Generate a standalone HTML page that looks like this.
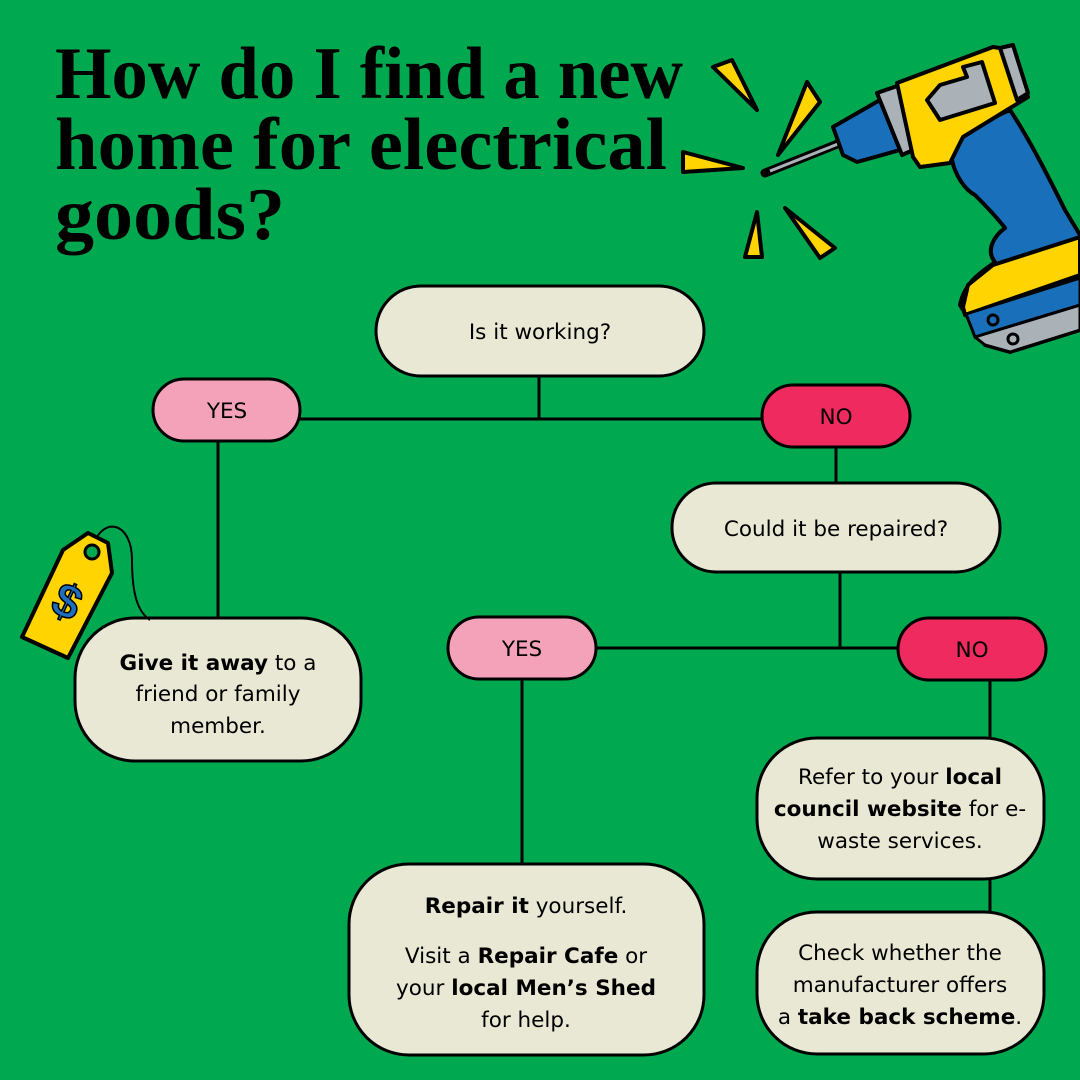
<!DOCTYPE html>
<html><head><meta charset="utf-8"><style>
html,body{margin:0;padding:0;background:#00a84f}
svg{display:block}
.n{fill:#e9e8d4;stroke:#000;stroke-width:3}
.t{font-family:"DejaVu Sans","Liberation Sans",sans-serif;font-size:21.5px;fill:#000;text-anchor:middle}
.b{font-weight:bold}
.l{stroke:#000;stroke-width:3;fill:none}
.y{fill:#ffd400;stroke:#000;stroke-width:4;stroke-linejoin:round}
</style></head><body>
<svg width="1080" height="1080" viewBox="0 0 1080 1080" xmlns="http://www.w3.org/2000/svg">
<rect width="1080" height="1080" fill="#00a84f"/>
<g font-family="Liberation Serif,serif" font-weight="bold" font-size="74" fill="#000">
<text x="55" y="98" textLength="628" lengthAdjust="spacingAndGlyphs">How do I find a new</text>
<text x="55" y="169" textLength="612" lengthAdjust="spacingAndGlyphs">home for electrical</text>
<text x="55" y="239" textLength="230" lengthAdjust="spacingAndGlyphs">goods?</text>
</g>
<path class="l" d="M539 376V419M300 419H762M218 441V618M836 447V483M840 572V648M596 648H898M522 679V864M990 680V738M990 879V912"/>
<rect class="n" x="376" y="286" width="328" height="90" rx="45"/>
<text class="t" x="540" y="339">Is it working?</text>
<rect x="153" y="379" width="147" height="62" rx="31" fill="#f4a2ba" stroke="#000" stroke-width="3"/>
<text class="t" x="227" y="418">YES</text>
<rect x="762" y="385" width="148" height="62" rx="31" fill="#ee2a5e" stroke="#000" stroke-width="3"/>
<text class="t" x="836" y="424">NO</text>
<rect class="n" x="672" y="483" width="328" height="89" rx="44"/>
<text class="t" x="836" y="536">Could it be repaired?</text>
<rect x="448" y="617" width="148" height="62" rx="31" fill="#f4a2ba" stroke="#000" stroke-width="3"/>
<text class="t" x="522" y="656">YES</text>
<rect x="898" y="618" width="148" height="62" rx="31" fill="#ee2a5e" stroke="#000" stroke-width="3"/>
<text class="t" x="972" y="657">NO</text>
<rect class="n" x="75" y="618" width="286" height="143" rx="60"/>
<text class="t" x="218" y="670"><tspan class="b">Give it away</tspan> to a</text>
<text class="t" x="218" y="701">friend or family</text>
<text class="t" x="218" y="733">member.</text>
<rect class="n" x="349" y="864" width="355" height="191" rx="60"/>
<text class="t" x="526" y="913"><tspan class="b">Repair it</tspan> yourself.</text>
<text class="t" x="526" y="963">Visit a <tspan class="b">Repair Cafe</tspan> or</text>
<text class="t" x="526" y="995">your <tspan class="b">local Men’s Shed</tspan></text>
<text class="t" x="526" y="1027">for help.</text>
<rect class="n" x="757" y="738" width="287" height="141" rx="60"/>
<text class="t" x="900" y="784">Refer to your <tspan class="b">local</tspan></text>
<text class="t" x="900" y="816"><tspan class="b">council website</tspan> for e-</text>
<text class="t" x="900" y="848">waste services.</text>
<rect class="n" x="757" y="912" width="287" height="142" rx="60"/>
<text class="t" x="900" y="960">Check whether the</text>
<text class="t" x="900" y="992">manufacturer offers</text>
<text class="t" x="900" y="1024">a <tspan class="b">take back scheme</tspan>.</text>
<path d="M92 550 C100 515 132 520 132 560 C132 595 138 612 150 620" fill="none" stroke="#000" stroke-width="2"/>
<polygon class="y" stroke-width="3" points="22,637 63,550 88,533 108,543 112,573 68,658"/>
<circle cx="92" cy="552" r="7" fill="#00a84f" stroke="#000" stroke-width="3"/>
<text x="68" y="618" font-family="Liberation Sans,sans-serif" font-weight="bold" font-size="48" fill="#1e6fc0" stroke="#000" stroke-width="1.5" text-anchor="middle" transform="rotate(25 68 600)">$</text>
<polygon class="y" points="713,67 732,60 757,110"/>
<polygon class="y" points="807,82 820,102 778,155"/>
<polygon class="y" points="683,152 683,172 743,168"/>
<polygon class="y" points="757,212 762,257 745,257"/>
<polygon class="y" points="785,208 835,248 820,258"/>
<path d="M765 173 L840 143" stroke="#000" stroke-width="9" stroke-linecap="round"/>
<path d="M770 171 L838 144" stroke="#aab2b8" stroke-width="3"/>
<path d="M960 305 C965 280 985 270 995 262 C985 250 995 235 1005 228 C995 215 985 205 975 195 C965 190 955 175 952 160 C950 140 975 125 1010 110 C1030 140 1050 180 1065 210 L1080 235 L1080 330 L1010 352 L985 345 Z" fill="#1a6fba" stroke="#000" stroke-width="4" stroke-linejoin="round"/>
<polygon points="963,307 968,285 993,265 1080,237 1080,275 965,315" fill="#ffd400" stroke="#000" stroke-width="4" stroke-linejoin="round"/>
<polygon points="966,314 1080,278 1080,305 975,337" fill="#1a6fba" stroke="#000" stroke-width="3"/>
<polygon points="975,337 1080,305 1080,330 1010,352 985,345" fill="#aab2b8" stroke="#000" stroke-width="3" stroke-linejoin="round"/>
<circle cx="993" cy="320" r="5" fill="none" stroke="#000" stroke-width="3"/>
<circle cx="1013" cy="339" r="5" fill="none" stroke="#000" stroke-width="3"/>
<polygon points="833,127 880,100 900,150 857,162 843,155" fill="#1a6fba" stroke="#000" stroke-width="4" stroke-linejoin="round"/>
<polygon points="877,93 900,85 920,147 902,155" fill="#aab2b8" stroke="#000" stroke-width="4" stroke-linejoin="round"/>
<polygon points="897,83 993,47 1013,50 1028,97 1007,110 963,137 950,163 920,167 913,157" fill="#ffd400" stroke="#000" stroke-width="4" stroke-linejoin="round"/>
<polygon points="1000,48 1013,45 1028,93 1017,100" fill="#aab2b8" stroke="#000" stroke-width="4" stroke-linejoin="round"/>
<polygon points="927,100 940,85 967,77 963,67 982,62 995,103 940,120" fill="#aab2b8" stroke="#000" stroke-width="4" stroke-linejoin="round"/>
</svg>
</body></html>
